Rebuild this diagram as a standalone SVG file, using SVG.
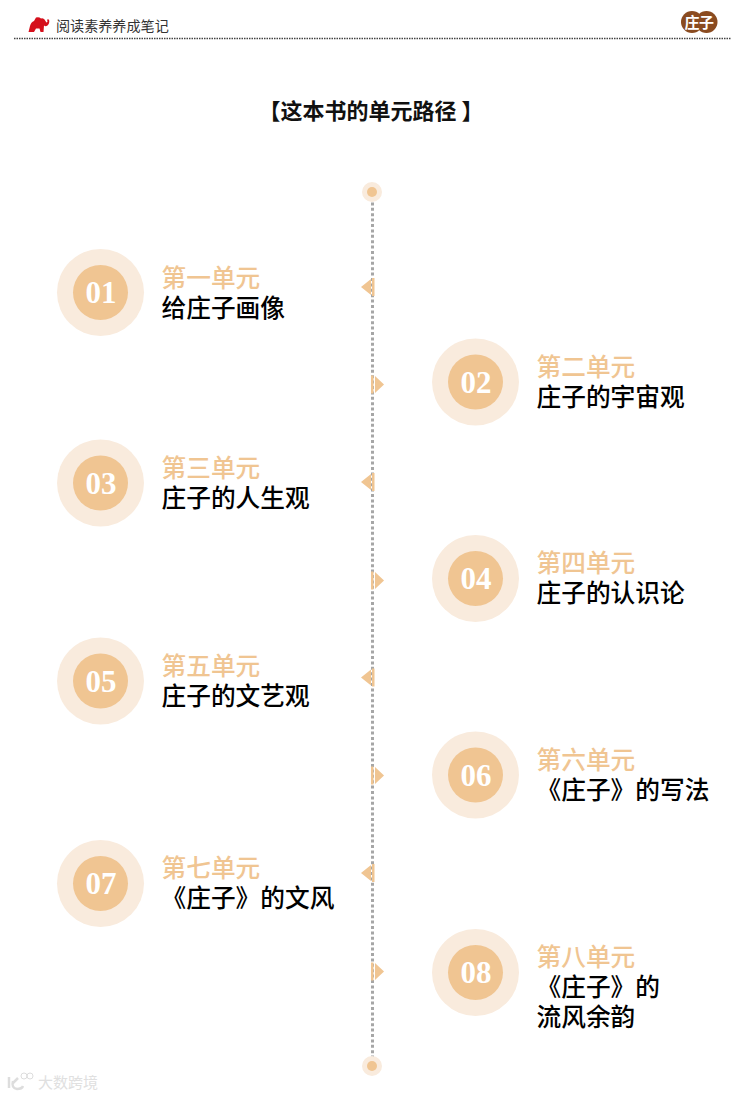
<svg xmlns="http://www.w3.org/2000/svg" width="743" height="1097" viewBox="0 0 743 1097">
<style>
text{font-family:"Noto Sans CJK SC","Noto Sans CJK JP",sans-serif}
.o{fill:#f9ebdd}.i{fill:#f0c592}
.n{font-family:"Liberation Serif",serif;font-weight:700;font-size:31px;fill:#fff;text-anchor:middle}
.l{font-size:24.7px;font-weight:500}
.u{fill:#f0c592}
.t{fill:#000}
.a{fill:#f0c592}
</style>
<rect width="743" height="1097" fill="#fff"/>
<g id="header">
<path id="elephant" fill="#d5101c" d="M28.500 32L30 26Q31 22 34 21L36 17.500Q39 16.500 41 18.500Q44 17.500 45.500 21Q46.500 23.500 47.500 21.500L47 19.500L49 19.500Q50 23 47.500 25.500Q45.500 27 44 25.500L43.500 32H40.500L39.500 28.500H36L34 32Z"/>
<text x="56" y="31" font-size="14.100" fill="#333">阅读素养养成笔记</text>
<line x1="14" y1="38.500" x2="731" y2="38.500" stroke="#444" stroke-width="1.300" stroke-dasharray="1.500 1"/>
<circle cx="692" cy="22" r="11" fill="#8a4b20"/><circle cx="706.500" cy="22" r="11" fill="#8a4b20"/>
<text x="692" y="28" font-size="15" font-weight="700" fill="#fff" text-anchor="middle">庄</text>
<text x="706.500" y="28" font-size="15" font-weight="700" fill="#fff" text-anchor="middle">子</text>
</g>
<text id="title" x="371" y="119" font-size="22" font-weight="700" fill="#111" text-anchor="middle">【这本书的单元路径 】</text>
<g id="connectors">
<line x1="372.500" y1="197" x2="372.500" y2="1061" stroke="#a6a6a6" stroke-width="3" stroke-dasharray="3 2.400"/>
</g>
<g id="timeline-ends">
<circle class="o" cx="372" cy="192" r="10"/><circle class="i" cx="372" cy="192" r="5"/>
<circle class="o" cx="372" cy="1066" r="10"/><circle class="i" cx="372" cy="1066" r="5"/>
</g>
<g id="markers">
<path class="a" d="M361 287L371 279V295Z"/><rect class="a" x="372" y="278" width="2.500" height="18"/>
<path class="a" d="M384 384.500L375 376V393Z"/><rect class="a" x="371" y="375.500" width="2.500" height="18"/>
<path class="a" d="M361 482L371 474V490Z"/><rect class="a" x="372" y="473" width="2.500" height="18"/>
<path class="a" d="M384 580.500L375 572V589Z"/><rect class="a" x="371" y="571.500" width="2.500" height="18"/>
<path class="a" d="M361 677.500L371 669.500V685.500Z"/><rect class="a" x="372" y="668.500" width="2.500" height="18"/>
<path class="a" d="M384 775.500L375 767V784Z"/><rect class="a" x="371" y="766.500" width="2.500" height="18"/>
<path class="a" d="M361 873L371 865V881Z"/><rect class="a" x="372" y="864" width="2.500" height="18"/>
<path class="a" d="M384 971.500L375 963V980Z"/><rect class="a" x="371" y="962.500" width="2.500" height="18"/>
</g>
<g id="unit1"><circle class="o" cx="100.500" cy="292.500" r="43.500"/><circle class="i" cx="100.500" cy="292.500" r="27.500"/><text class="n" x="101" y="303">01</text><text class="l"><tspan class="u" x="161.500" y="287">第一单元</tspan><tspan class="t" x="161.500" y="317">给庄子画像</tspan></text></g>
<g id="unit2"><circle class="o" cx="475.500" cy="382" r="43.500"/><circle class="i" cx="475.500" cy="382" r="27.500"/><text class="n" x="476" y="393">02</text><text class="l"><tspan class="u" x="536.500" y="376">第二单元</tspan><tspan class="t" x="536.500" y="406">庄子的宇宙观</tspan></text></g>
<g id="unit3"><circle class="o" cx="100.500" cy="483" r="43.500"/><circle class="i" cx="100.500" cy="483" r="27.500"/><text class="n" x="101" y="494">03</text><text class="l"><tspan class="u" x="161.500" y="477">第三单元</tspan><tspan class="t" x="161.500" y="507">庄子的人生观</tspan></text></g>
<g id="unit4"><circle class="o" cx="475.500" cy="578.500" r="43.500"/><circle class="i" cx="475.500" cy="578.500" r="27.500"/><text class="n" x="476" y="589">04</text><text class="l"><tspan class="u" x="536.500" y="572">第四单元</tspan><tspan class="t" x="536.500" y="602">庄子的认识论</tspan></text></g>
<g id="unit5"><circle class="o" cx="100.500" cy="681" r="43.500"/><circle class="i" cx="100.500" cy="681" r="27.500"/><text class="n" x="101" y="692">05</text><text class="l"><tspan class="u" x="161.500" y="675">第五单元</tspan><tspan class="t" x="161.500" y="705">庄子的文艺观</tspan></text></g>
<g id="unit6"><circle class="o" cx="475.500" cy="775" r="43.500"/><circle class="i" cx="475.500" cy="775" r="27.500"/><text class="n" x="476" y="786">06</text><text class="l"><tspan class="u" x="536.500" y="769">第六单元</tspan><tspan class="t" x="536.500" y="799">《庄子》的写法</tspan></text></g>
<g id="unit7"><circle class="o" cx="100.500" cy="883.500" r="43.500"/><circle class="i" cx="100.500" cy="883.500" r="27.500"/><text class="n" x="101" y="894">07</text><text class="l"><tspan class="u" x="161.500" y="877">第七单元</tspan><tspan class="t" x="161.500" y="907">《庄子》的文风</tspan></text></g>
<g id="unit8"><circle class="o" cx="475.500" cy="972.500" r="43.500"/><circle class="i" cx="475.500" cy="972.500" r="27.500"/><text class="n" x="476" y="983">08</text><text class="l"><tspan class="u" x="536.500" y="966">第八单元</tspan><tspan class="t" x="536.500" y="996">《庄子》的</tspan><tspan class="t" x="536.500" y="1026">流风余韵</tspan></text></g>
<g id="watermark">
<path d="M9 1077V1088M13 1081Q11 1088 17 1089Q22 1089 23 1086M13 1083L18 1078" fill="none" stroke="#ddd" stroke-width="2.500"/>
<circle cx="24" cy="1076" r="3" fill="none" stroke="#ddd"/><circle cx="30" cy="1076" r="3" fill="none" stroke="#ddd"/>
<text x="38" y="1088" font-size="15" fill="#e0e0e0">大数跨境</text>
</g>
</svg>
